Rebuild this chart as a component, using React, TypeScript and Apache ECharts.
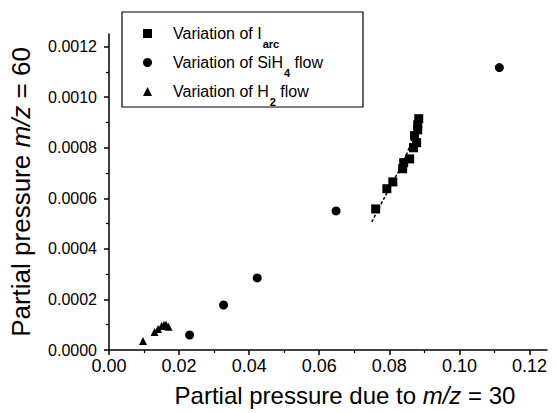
import React, { useEffect, useRef } from "react";
import * as echarts from "echarts";

// I_arc variation (squares)
const arcX = [0.0761, 0.0793, 0.081, 0.0838, 0.0841, 0.0858, 0.0869, 0.0878, 0.0872, 0.0881, 0.0881, 0.0884];
const arcY = [0.000558, 0.000638, 0.000665, 0.000717, 0.000741, 0.000756, 0.0008, 0.00082, 0.000848, 0.000871, 0.000891, 0.000915];
// SiH4 flow variation (circles)
const sihX = [0.023, 0.0327, 0.0423, 0.0648, 0.1114];
const sihY = [0.0000594, 0.000178, 0.000285, 0.00055, 0.001117];
// H2 flow variation (triangles)
const h2X = [0.0097, 0.013, 0.014, 0.015, 0.0157, 0.0163, 0.017];
const h2Y = [0.000036, 0.000071, 0.000083, 0.000095, 0.0001, 0.0001, 0.000092];
// dashed fit through I_arc points
const fitX = [0.075, 0.08, 0.0845, 0.088, 0.0886];
const fitY = [0.000507, 0.00064, 0.00076, 0.0009, 0.000925];

const xTicks = [0, 0.02, 0.04, 0.06, 0.08, 0.1, 0.12];
const yTicks = [0, 0.0002, 0.0004, 0.0006, 0.0008, 0.001, 0.0012];

const FONT = "'Liberation Sans', Arial, Helvetica, sans-serif";

const zip = (xs: number[], ys: number[]) => xs.map((x, i) => [x, ys[i]]);

export default function App() {
  const ref = useRef<HTMLDivElement>(null);
  useEffect(() => {
    if (!ref.current) return;
    const chart = echarts.init(ref.current, null, { renderer: "svg" });
    const axisCommon = {
      axisLine: { show: true, lineStyle: { color: "#000", width: 1.5 } },
      splitLine: { show: false },
      minorSplitLine: { show: false },
    };
    chart.setOption({
      animation: false,
      backgroundColor: "#fff",
      grid: { left: 107, right: 10, top: 34, bottom: 63, containLabel: false },
      legend: {
        orient: "vertical",
        left: 122,
        top: 12,
        padding: [6, 40, 0, 21],
        itemGap: -2,
        itemWidth: 9,
        itemHeight: 9,
        borderColor: "#000",
        borderWidth: 1.2,
        borderRadius: 0,
        selectedMode: false,
        data: [
          { name: "Iarc", icon: "rect", itemStyle: { color: "#000", opacity: 1 } },
          { name: "SiH4", icon: "circle", itemStyle: { color: "#000", opacity: 1 } },
          { name: "H2", icon: "triangle", itemStyle: { color: "#000", opacity: 1 } },
        ],
        formatter: (name: string) => {
          if (name === "Iarc") return "{t|Variation of I}{s|arc}";
          if (name === "SiH4") return "{t|Variation of SiH}{s|4}{t2| flow}";
          return "{t|Variation of H}{s|2}{t2| flow}";
        },
        textStyle: {
          fontFamily: FONT,
          fontSize: 16,
          color: "#000",
          rich: {
            t: { fontFamily: FONT, fontSize: 16, color: "#000", lineHeight: 18, padding: [0, 0, 0, 16] },
            t2: { fontFamily: FONT, fontSize: 16, color: "#000", lineHeight: 18 },
            s: { fontFamily: FONT, fontSize: 11, fontWeight: "bold", color: "#000", lineHeight: 11, padding: [20, 0, 0, 1] },
          },
        },
      },
      xAxis: {
        type: "value",
        min: 0,
        max: 0.125,
        interval: 0.02,
        ...axisCommon,
        axisTick: { show: true, inside: false, length: 5, customValues: xTicks, lineStyle: { color: "#000", width: 1.5 } },
        minorTick: { show: true, splitNumber: 2, length: 3, lineStyle: { color: "#000", width: 1.2 } },
        axisLabel: {
          customValues: xTicks,
          formatter: (v: number) => v.toFixed(2),
          fontFamily: FONT,
          fontSize: 18,
          color: "#000",
          margin: 7,
        },
        name: "Partial pressure due to {i|m/z} = 30",
        nameLocation: "middle",
        nameGap: 33,
        nameTextStyle: {
          fontFamily: FONT,
          fontSize: 24,
          color: "#000",
          padding: [0, 0, 0, 34],
          rich: { i: { fontFamily: FONT, fontSize: 24, fontStyle: "italic", color: "#000" } },
        },
      },
      yAxis: {
        type: "value",
        min: 0,
        max: 0.00125,
        interval: 0.0002,
        ...axisCommon,
        axisTick: { show: true, inside: false, length: 5, customValues: yTicks, lineStyle: { color: "#000", width: 1.5 } },
        minorTick: { show: true, splitNumber: 2, length: 3, lineStyle: { color: "#000", width: 1.2 } },
        axisLabel: {
          customValues: yTicks,
          formatter: (v: number) => v.toFixed(4),
          fontFamily: FONT,
          fontSize: 16,
          color: "#000",
          margin: 12,
        },
        name: "Partial pressure {i|m/z} = 60",
        nameLocation: "middle",
        nameRotate: 90,
        nameGap: 75,
        nameTextStyle: {
          fontFamily: FONT,
          fontSize: 26,
          color: "#000",
          rich: { i: { fontFamily: FONT, fontSize: 26, fontStyle: "italic", color: "#000" } },
        },
      },
      series: [
        {
          name: "fit",
          type: "line",
          data: zip(fitX, fitY),
          smooth: true,
          showSymbol: false,
          symbol: "none",
          lineStyle: { color: "#000", width: 1.5, type: [3, 2] },
          z: 1,
        },
        {
          name: "Iarc",
          type: "scatter",
          symbol: "rect",
          symbolSize: 9,
          data: zip(arcX, arcY),
          itemStyle: { color: "#000", opacity: 1 },
          z: 3,
        },
        {
          name: "SiH4",
          type: "scatter",
          symbol: "circle",
          symbolSize: 9,
          data: zip(sihX, sihY),
          itemStyle: { color: "#000", opacity: 1 },
          z: 3,
        },
        {
          name: "H2",
          type: "scatter",
          symbol: "triangle",
          symbolSize: 8,
          data: zip(h2X, h2Y),
          itemStyle: { color: "#000", opacity: 1 },
          z: 3,
        },
      ],
    });
    return () => chart.dispose();
  }, []);
  return (
    <div
      ref={ref}
      style={{ position: "fixed", left: 0, top: 0, width: 557, height: 413, background: "#fff" }}
    />
  );
}
